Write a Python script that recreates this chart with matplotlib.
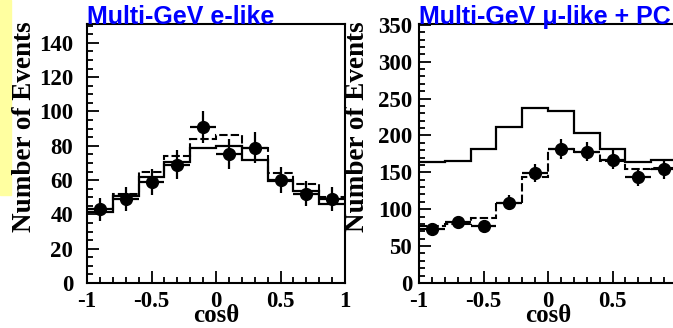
import matplotlib
matplotlib.use('Agg')
import matplotlib.pyplot as plt
import numpy as np
from matplotlib.patches import Rectangle
from matplotlib.ticker import MultipleLocator

## Zenith-angle bins
cos_edges = np.linspace(-1, 1, 11)
cos_mid = 0.5 * (cos_edges[:-1] + cos_edges[1:])

## Multi-GeV e-like
e_data = [43, 49, 59, 69, 91, 75, 79, 60, 52, 49]
e_err = [6.6, 7.0, 7.7, 8.3, 9.5, 8.7, 8.9, 7.7, 7.2, 7.0]
e_noosc = [41.5, 50.5, 62, 70.5, 79, 80, 72, 59.5, 53.5, 46]
e_bestfit = [43, 52, 65, 74, 84, 86, 79, 64, 58, 50]

## Multi-GeV mu-like + PC
mu_data = [73, 82, 77, 109, 149, 182, 178, 167, 143, 154]
mu_err = [8.5, 9.0, 8.8, 10.4, 12.2, 13.5, 13.3, 12.9, 12.0, 12.4]
mu_noosc = [164, 166, 181, 211, 237, 233, 203, 181, 164, 167]
mu_bestfit = [77, 80, 88, 109, 144, 182, 177, 166, 154, 156]

serif = 'Liberation Serif'
sans = 'Liberation Sans'

fig = plt.figure(figsize=(6.73, 3.28), dpi=100)
fig.patches.append(Rectangle((0, 1 - 195 / 328), 11 / 673, 195 / 328,
                             transform=fig.transFigure, color='#ffffa0', zorder=0))

def panel(left, data, err, noosc, best, ymax, major, minor, title, pad):
    ax = fig.add_axes([left, 0.1372, 0.3834, 0.7896])
    ax.stairs(noosc, cos_edges, baseline=None, color='black', lw=1.6)
    ax.stairs(best, cos_edges, baseline=None, color='black', lw=1.5,
              linestyle=(0, (4, 1.5)))
    ax.errorbar(cos_mid, data, yerr=err, xerr=0.1, fmt='o', color='black',
                ms=8.5, elinewidth=1.6, capsize=0)
    ax.set_xlim(-1, 1)
    ax.set_ylim(0, ymax)
    ax.xaxis.set_major_locator(MultipleLocator(0.5))
    ax.xaxis.set_minor_locator(MultipleLocator(0.1))
    ax.yaxis.set_major_locator(MultipleLocator(major))
    ax.yaxis.set_minor_locator(MultipleLocator(minor))
    ax.tick_params(which='both', direction='in', width=1.3, top=False, right=False)
    ax.tick_params(which='major', length=8.5)
    ax.tick_params(which='minor', length=4.3)
    ax.tick_params(axis='y', pad=pad)
    ax.tick_params(axis='x', pad=6)
    for s in ax.spines.values():
        s.set_linewidth(1.5)
    ax.set_xticks([-1, -0.5, 0, 0.5, 1])
    ax.set_xticklabels(['-1', '-0.5', '0', '0.5', '1'])
    for lab in ax.get_xticklabels() + ax.get_yticklabels():
        lab.set_fontfamily(serif)
        lab.set_fontweight('bold')
        lab.set_fontsize(16.5)
    # axis title sits just under the tick-label row
    ax.text(0.5, -0.125, 'cosθ', transform=ax.transAxes, ha='center', va='center',
            fontfamily=serif, fontweight='bold', fontsize=18)
    ax.text(0, 1.0, title, transform=ax.transAxes, ha='left', va='baseline',
            color='#0000ff', fontfamily=sans, fontweight='bold', fontsize=18)
    return ax

panel(87 / 673, e_data, e_err, e_noosc, e_bestfit, 151, 20, 5,
      'Multi-GeV e-like', 10)
panel(419 / 673, mu_data, mu_err, mu_noosc, mu_bestfit, 351, 50, 10,
      'Multi-GeV μ-like + PC', 5)

for xc in (25, 358):
    fig.text(xc / 673, 1 - 127 / 328, 'Number of Events', rotation=90,
             ha='center', va='center', fontfamily=serif, fontweight='bold',
             fontsize=19.5)

fig.savefig('out.png', dpi=100)
